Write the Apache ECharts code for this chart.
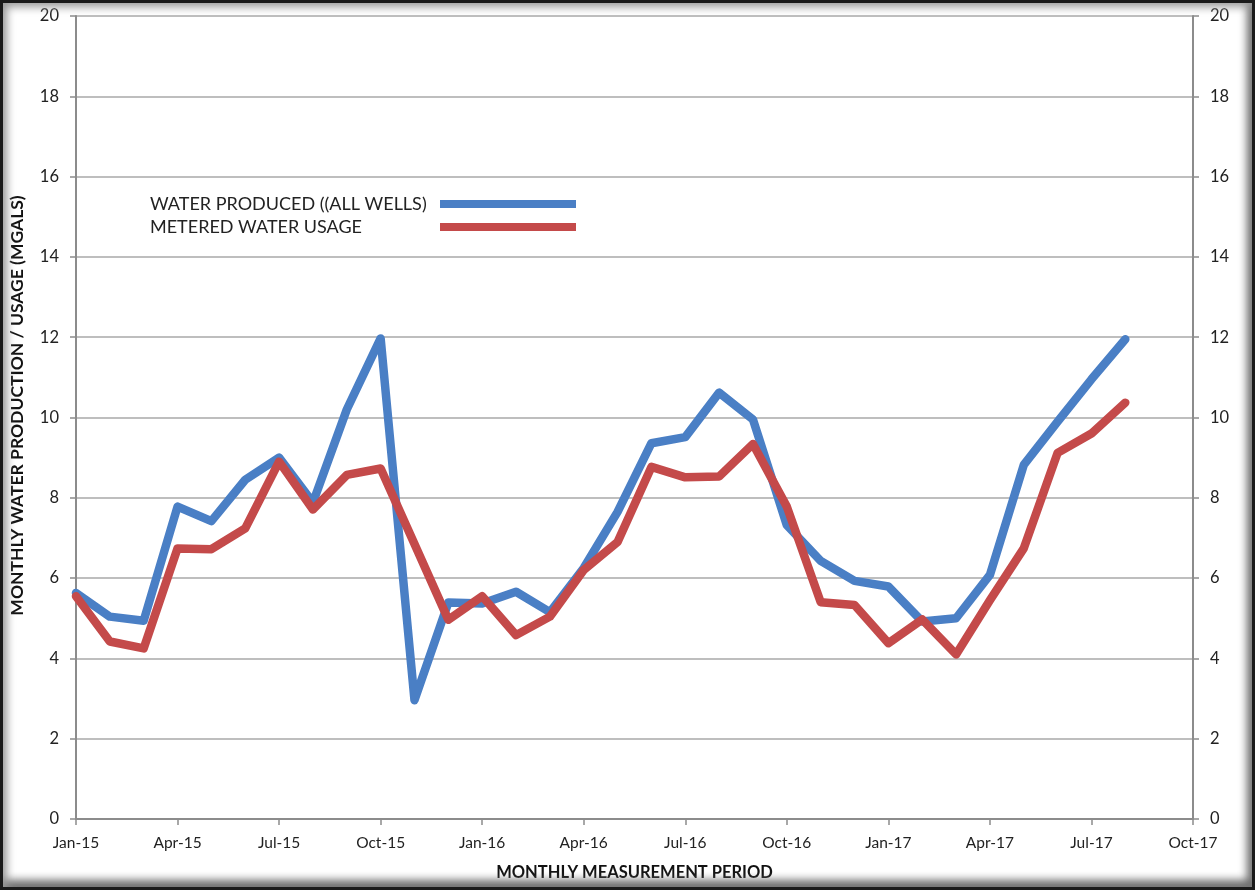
<!DOCTYPE html>
<html>
<head>
<meta charset="utf-8">
<script src="https://cdn.jsdelivr.net/npm/echarts@6/dist/echarts.min.js"></script>
<style>
html,body{margin:0;padding:0;background:#fff;}
#wrap{position:relative;width:1255px;height:890px;}
#chart{position:absolute;left:0;top:0;width:1255px;height:890px;}
#frame{position:absolute;left:0;top:0;width:1255px;height:890px;box-sizing:border-box;border:3px solid #1a1a1a;box-shadow:inset 4px 4px 8px #9a9a9a, inset -5px -7px 9px #6a6a6a;pointer-events:none;}
</style>
</head>
<body>
<div id="wrap"><div id="chart"></div><div id="frame"></div></div>
<script>
const categories = ['Jan-15','Feb-15','Mar-15','Apr-15','May-15','Jun-15','Jul-15','Aug-15','Sep-15','Oct-15','Nov-15','Dec-15',
  'Jan-16','Feb-16','Mar-16','Apr-16','May-16','Jun-16','Jul-16','Aug-16','Sep-16','Oct-16','Nov-16','Dec-16',
  'Jan-17','Feb-17','Mar-17','Apr-17','May-17','Jun-17','Jul-17','Aug-17','Sep-17','Oct-17'];
const waterProduced = [5.63,5.04,4.94,7.78,7.42,8.45,9.0,7.88,10.2,11.97,2.96,5.39,
  5.37,5.66,5.15,6.25,7.65,9.36,9.51,10.62,9.95,7.32,6.43,
  5.93,5.79,4.92,5.0,6.08,8.82,9.9,10.95,11.95];
const meteredUsage = [5.55,4.42,4.25,6.74,6.72,7.24,8.9,7.71,8.57,8.73,6.85,4.96,
  5.55,4.58,5.04,6.2,6.9,8.77,8.51,8.53,9.34,7.78,5.4,
  5.33,4.38,4.97,4.1,5.45,6.74,9.12,9.6,10.37];
const seriesNames = ['WATER PRODUCED ((ALL WELLS)','METERED WATER USAGE'];
const yTitle = 'MONTHLY WATER PRODUCTION / USAGE (MGALS)';
const xTitle = 'MONTHLY MEASUREMENT PERIOD';

const FONT = 'Lato, "Open Sans", sans-serif';
const chart = echarts.init(document.getElementById('chart'), null, {renderer:'canvas'});
const yAxisBase = {
  type:'value', min:0, max:20, interval:2,
  axisLine:{show:true, lineStyle:{color:'#8c8c8c', width:2}},
  axisTick:{show:true, length:6, lineStyle:{color:'#8c8c8c', width:1.5}},
  axisLabel:{color:'#222', fontSize:16.5, fontFamily:FONT, margin:17}
};
chart.setOption({
  animation:false,
  backgroundColor:'#fff',
  grid:{left:74, right:62, top:16, bottom:71, containLabel:false},
  legend:{
    orient:'vertical', left:145, top:190, align:'right',
    icon:'rect', itemWidth:136, itemHeight:8, itemGap:5,
    formatter: function(n){ return '{t|' + n + '}'; },
    textStyle:{color:'#222', fontSize:18, fontFamily:FONT,
      rich:{t:{width:285, align:'left', fontSize:18, fontFamily:FONT, color:'#222'}}},
    data:seriesNames
  },
  xAxis:{
    type:'category', data:categories, boundaryGap:false,
    name:xTitle, nameLocation:'middle', nameGap:45,
    nameTextStyle:{color:'#111', fontSize:16.5, fontWeight:'bold', fontFamily:FONT},
    axisLine:{lineStyle:{color:'#8c8c8c', width:2}},
    axisTick:{interval:2, length:6, lineStyle:{color:'#8c8c8c', width:1.5}},
    axisLabel:{interval:2, color:'#222', fontSize:15.5, fontFamily:FONT, margin:16},
    splitLine:{show:false}
  },
  yAxis:[
    Object.assign({}, yAxisBase, {
      position:'left',
      name:yTitle, nameLocation:'middle', nameGap:50, nameRotate:90,
      nameTextStyle:{color:'#111', fontSize:17.5, fontWeight:'bold', fontFamily:FONT, padding:[0,0,0,24]},
      splitLine:{show:true, lineStyle:{color:'#a8a8a8', width:1.5}}
    }),
    Object.assign({}, yAxisBase, {
      position:'right',
      splitLine:{show:false}
    })
  ],
  series:[
    {name:seriesNames[0], type:'line', data:waterProduced, showSymbol:false, symbol:'none',
     color:'#4a7fc5', lineStyle:{width:8.5, color:'#4a7fc5', join:'round', cap:'round'}, z:2},
    {name:seriesNames[1], type:'line', data:meteredUsage, showSymbol:false, symbol:'none',
     color:'#c44a4a', lineStyle:{width:8.5, color:'#c44a4a', join:'round', cap:'round'}, z:3}
  ]
});
</script>
</body>
</html>
